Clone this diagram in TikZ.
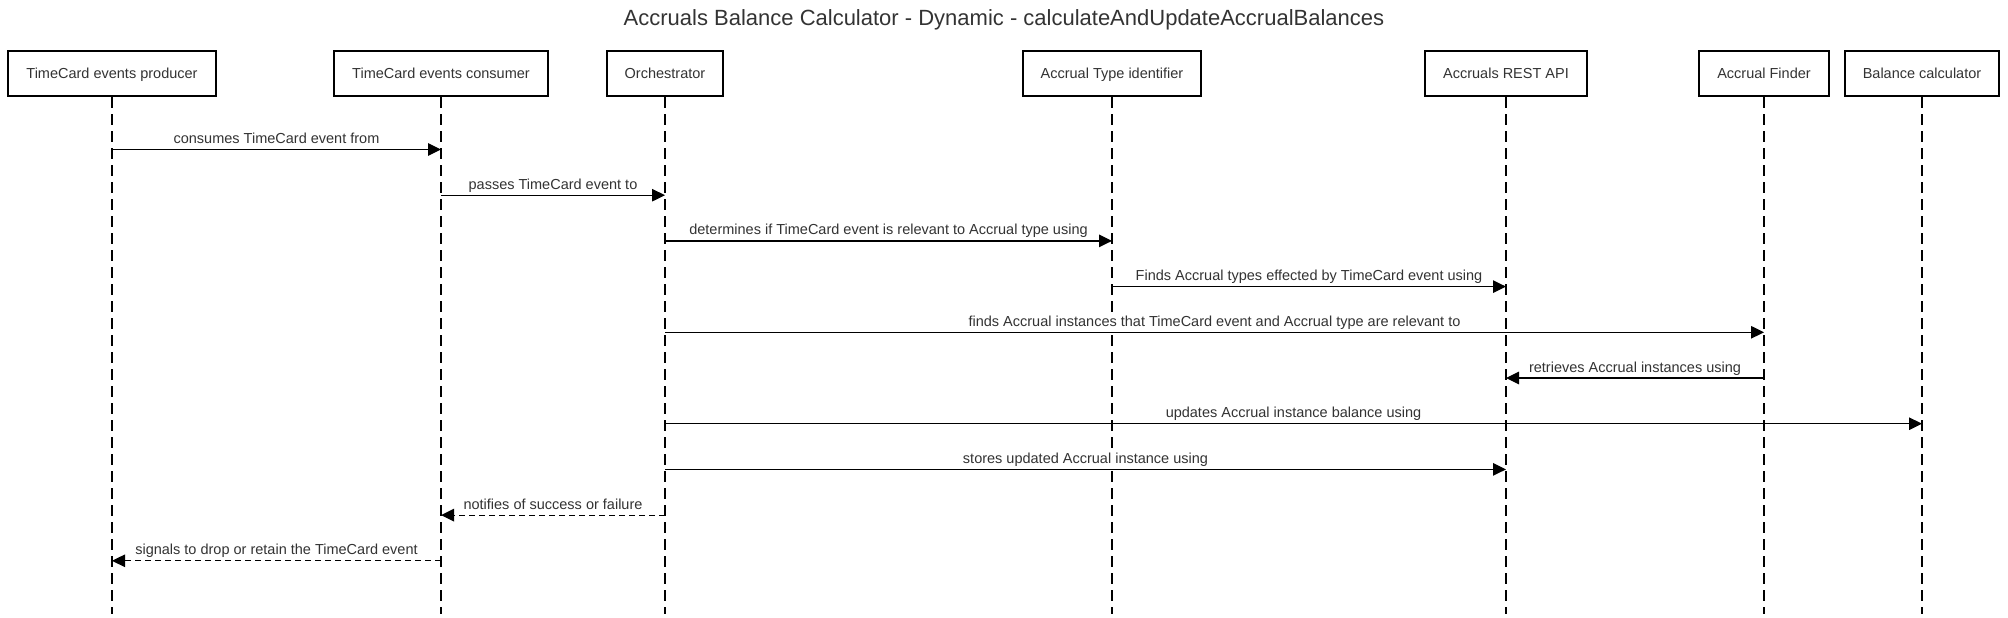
\documentclass[tikz,border=0pt]{standalone}
\usepackage{fontspec}
\setmainfont{Liberation Sans}
\usetikzlibrary{arrows.meta}
\definecolor{txt}{HTML}{333333}
\begin{document}
\begin{tikzpicture}[x=1pt,y=-1pt,
 box/.style={draw=black, line width=2pt, fill=white, minimum height=45pt, inner xsep=18pt, inner ysep=0pt, text height=10.5pt, text depth=0pt, font=\fontsize{14.5}{17}\selectfont, text=txt},
 lifeline/.style={draw=black, line width=1.1pt, dash pattern=on 11pt off 6pt},
 msg/.style={draw=black, line width=1.2pt, -{Triangle[length=13pt,width=12.5pt]}},
 reply/.style={msg, dash pattern=on 6pt off 4pt},
 lbl/.style={font=\fontsize{14.5}{17}\selectfont, text=txt, anchor=base, yshift=6pt, inner sep=0.5pt, fill=white}
]
\useasboundingbox (0,0) rectangle (2008,618);

\node[font=\fontsize{22}{26}\selectfont, text=txt, anchor=base] (title) at (1004,26) {Accruals Balance Calculator - Dynamic - calculateAndUpdateAccrualBalances};

% participants
\node[box] (prod) at (112,73.5) {TimeCard events producer};
\node[box] (cons) at (441,73.5) {TimeCard events consumer};
\node[box] (orch) at (665,73.5) {Orchestrator};
\node[box] (atid) at (1112,73.5) {Accrual Type identifier};
\node[box] (rest) at (1506,73.5) {Accruals REST API};
\node[box] (find) at (1764,73.5) {Accrual Finder};
\node[box] (bcal) at (1922,73.5) {Balance calculator};

% lifelines
\foreach \p in {prod,cons,orch,atid,rest,find,bcal}{
  \coordinate (\p-end) at (\p |- 0,614);
  \draw[lifeline] (\p.south) -- (\p-end);
}

% messages
\draw[msg] (prod |- 0,149.5) -- (cons |- 0,149.5) node[lbl, midway] {consumes TimeCard event from};
\draw[msg] (cons |- 0,195.2) -- (orch |- 0,195.2) node[lbl, midway] {passes TimeCard event to};
\draw[msg] (orch |- 0,240.9) -- (atid |- 0,240.9) node[lbl, midway] {determines if TimeCard event is relevant to Accrual type using};
\draw[msg] (atid |- 0,286.6) -- (rest |- 0,286.6) node[lbl, midway] {Finds Accrual types effected by TimeCard event using};
\draw[msg] (orch |- 0,332.3) -- (find |- 0,332.3) node[lbl, midway] {finds Accrual instances that TimeCard event and Accrual type are relevant to};
\draw[msg] (find |- 0,378) -- (rest |- 0,378) node[lbl, midway] {retrieves Accrual instances using};
\draw[msg] (orch |- 0,423.7) -- (bcal |- 0,423.7) node[lbl, midway] {updates Accrual instance balance using};
\draw[msg] (orch |- 0,469.4) -- (rest |- 0,469.4) node[lbl, midway] {stores updated Accrual instance using};
\draw[reply] (orch |- 0,515.1) -- (cons |- 0,515.1) node[lbl, midway] {notifies of success or failure};
\draw[reply] (cons |- 0,560.8) -- (prod |- 0,560.8) node[lbl, midway] {signals to drop or retain the TimeCard event};
\end{tikzpicture}
\end{document}
